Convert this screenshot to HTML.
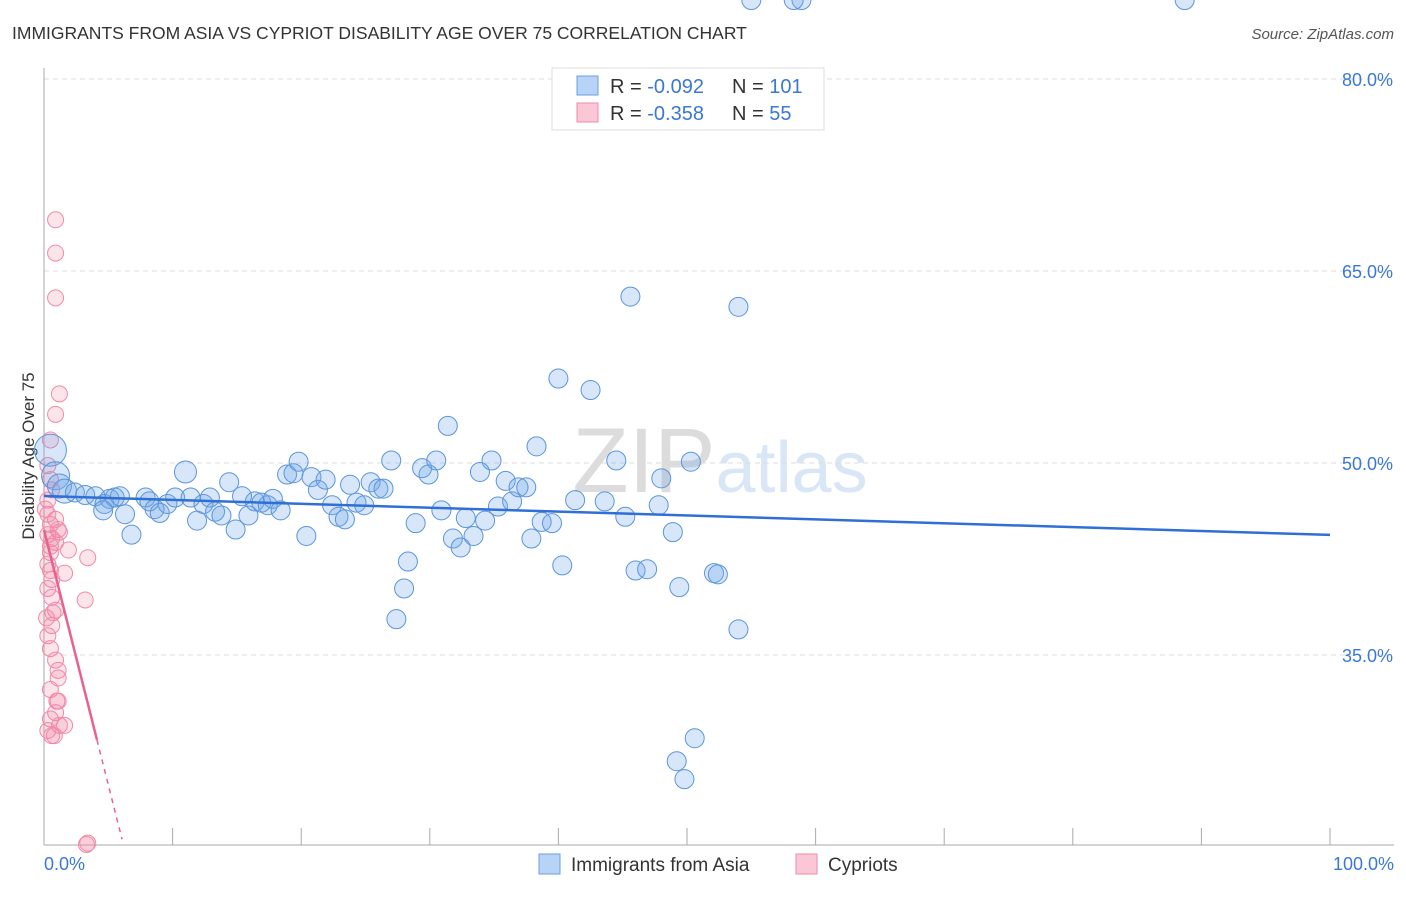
<!DOCTYPE html>
<html><head><meta charset="utf-8"><style>
body{margin:0;background:#fff;font-family:"Liberation Sans",sans-serif;}
svg text{font-family:"Liberation Sans",sans-serif;}
</style></head><body>
<svg id="chart" width="1406" height="892" xmlns="http://www.w3.org/2000/svg">
<text x="12" y="39" font-size="17.5" fill="#333">IMMIGRANTS FROM ASIA VS CYPRIOT DISABILITY AGE OVER 75 CORRELATION CHART</text>
<text x="1394" y="39" font-size="15" fill="#555" text-anchor="end" font-style="italic">Source: ZipAtlas.com</text>
<text x="720" y="492" font-size="92" fill="#e6e6e6" text-anchor="middle" font-family="Liberation Serif"><tspan fill="#dcdcdc">ZIP</tspan><tspan fill="#d8e6f5" font-family="Liberation Sans" font-size="72">atlas</tspan></text>
<text transform="translate(34,456) rotate(-90)" font-size="17" fill="#333" text-anchor="middle">Disability Age Over 75</text>
<g id="grid"></g>
<g id="marks"></g>
<g>
<rect x="552" y="68" width="272" height="62" fill="#fff" stroke="#ddd"/>
<rect x="577" y="76" width="21" height="19" fill="#b8d3f5" stroke="#6a9fe0"/>
<rect x="577" y="103" width="21" height="19" fill="#fbc6d6" stroke="#f08aa8"/>
<text x="610" y="93" font-size="20" fill="#333">R = <tspan fill="#3a78d4">-0.092</tspan></text>
<text x="732" y="93" font-size="20" fill="#333">N = <tspan fill="#3a78d4">101</tspan></text>
<text x="610" y="120" font-size="20" fill="#333">R = <tspan fill="#3a78d4"> -0.358</tspan></text>
<text x="732" y="120" font-size="20" fill="#333">N = <tspan fill="#3a78d4"> 55</tspan></text>
</g>
<g>
<rect x="539" y="854" width="21" height="20" fill="#b8d3f5" stroke="#6a9fe0"/>
<text x="571" y="871" font-size="19" fill="#333">Immigrants from Asia</text>
<rect x="796" y="854" width="21" height="20" fill="#fbc6d6" stroke="#f08aa8"/>
<text x="828" y="871" font-size="19" fill="#333">Cypriots</text>
</g>
</svg>
<script>
const yTicks=[80,65,50,35];
const xTickCount=[0,10,20,30,40,50,60,70,80,90,100];
const xLabels=["0.0%","100.0%"];
const asiaX=[0.5,0.9,1.2,1.6,2.4,3.2,4.0,4.7,5.1,5.5,5.9,4.6,6.3,6.8,7.9,8.2,8.6,9.0,9.6,10.2,11.0,11.4,11.9,12.4,12.9,13.3,13.8,14.4,14.9,15.4,15.9,16.4,16.9,17.4,17.8,18.4,18.9,19.4,19.8,20.4,20.8,21.3,21.9,22.4,22.9,23.4,23.8,24.3,24.9,25.4,26.0,26.4,27.0,27.4,28.0,28.3,28.9,29.4,29.9,30.5,30.9,31.4,31.8,32.4,32.8,33.4,33.9,34.3,34.8,35.3,35.9,36.4,36.9,37.5,37.9,38.3,38.7,39.5,40.0,40.3,41.3,42.5,43.6,45.2,44.5,46.0,46.9,45.6,49.2,49.4,48.9,50.3,49.8,47.8,48.0,50.6,52.1,54.0,52.4,54.0,55.0,58.9,58.3,88.7];
const asiaY=[51.0,49.0,48.2,47.8,47.7,47.5,47.4,46.8,47.2,47.3,47.4,46.3,46.0,44.4,47.3,47.0,46.4,46.1,46.8,47.3,49.3,47.3,45.5,46.8,47.3,46.2,45.9,48.5,44.8,47.4,45.9,47.0,46.9,46.7,47.2,46.3,49.1,49.2,50.1,44.3,48.9,47.9,48.7,46.7,45.8,45.6,48.3,46.9,46.7,48.5,48.0,48.0,50.2,37.8,40.2,42.3,45.3,49.6,49.1,50.2,46.3,52.9,44.1,43.4,45.7,44.3,49.3,45.5,50.2,46.6,48.6,47.0,48.1,48.1,44.1,51.3,45.4,45.3,56.6,42.0,47.1,55.7,47.0,45.8,50.2,41.6,41.7,63.0,26.7,40.3,44.6,50.1,25.3,46.7,48.8,28.5,41.4,37.0,41.3,62.2];
const cypX=[0.9,0.9,0.9,1.2,0.9,0.5,0.3,0.5,0.6,0.3,0.9,0.5,1.1,1.2,0.3,0.6,0.9,0.5,1.9,3.4,0.3,1.6,0.6,0.3,3.2,0.9,0.6,0.3,0.5,1.1,1.1,0.5,1.1,0.9,0.5,1.2,1.6,0.3,0.6,3.4,3.3,0.3,0.5,0.6,0.9,0.1,0.5,0.2,0.7,1.0,0.8];
const cypY=[69.0,66.4,62.9,55.4,53.8,51.8,49.8,48.7,47.9,47.1,45.6,45.2,44.8,44.6,44.4,44.1,43.8,43.5,43.2,42.6,42.1,41.4,40.9,40.2,39.3,38.5,37.3,36.5,35.5,33.8,33.2,32.3,31.4,30.5,30.0,29.5,29.5,29.1,28.7,20.3,20.2,46.0,43.0,39.5,34.6,46.4,41.6,37.9,38.3,31.4,28.7];
const asiaTrend=[47.42,44.38];
const cypTrendX=[0,4.12,6.07];
const cypTrendY=[44.77,28.36,20.6];
const X0=44,X1=1330,YREF=463;
const xs=v=>X0+(X1-X0)*v/100;
const ys=v=>YREF-(v-50)*12.8;
const NS="http://www.w3.org/2000/svg";
const grid=document.getElementById('grid'),marks=document.getElementById('marks');
function mk(tag,attrs,parent){const e=document.createElementNS(NS,tag);for(const k in attrs)e.setAttribute(k,attrs[k]);parent.appendChild(e);return e;}
yTicks.forEach(t=>{
 const l=mk('line',{x1:44,x2:1394,y1:ys(t),y2:ys(t),stroke:'#ddd','stroke-dasharray':'5,4'},grid);
 
 
 const tx=mk('text',{x:1393,y:ys(t)+7,'font-size':18,fill:'#3a78d4','text-anchor':'end'},grid);
 tx.textContent=t.toFixed(1)+'%';
 
 
});
const ax=mk('line',{x1:44,x2:44,y1:68,y2:845,stroke:'#aaa'},grid);


const bx=mk('line',{x1:44,x2:1394,y1:845,y2:845,stroke:'#aaa'},grid);


xTickCount.forEach(t=>{
 const l=mk('line',{x1:xs(t),x2:xs(t),y1:828,y2:845,stroke:'#aaa'},grid);
 
 
});
const xl0=mk('text',{x:44,y:870,'font-size':18,fill:'#3a78d4'},grid);xl0.textContent=xLabels[0];


const xl1=mk('text',{x:1394,y:870,'font-size':18,fill:'#3a78d4','text-anchor':'end'},grid);xl1.textContent=xLabels[1];


cypX.forEach((x,i)=>{
 const c=mk('circle',{cx:xs(x),cy:ys(cypY[i]),r:8,fill:'rgba(240,130,165,0.22)',stroke:'#f08aa8','stroke-width':1},marks);
 
 
});
asiaX.forEach((x,i)=>{
 const r=i==0?16:(i==1?14:(i<4?12:(i==20?11:9.5)));
 const c=mk('circle',{cx:xs(x),cy:ys(asiaY[i]),r:r,fill:'rgba(110,165,230,0.28)',stroke:'#5b95dd','stroke-width':1},marks);
 
 
});
const bt=mk('line',{x1:xs(0),y1:ys(asiaTrend[0]),x2:xs(100),y2:ys(asiaTrend[1]),stroke:'#2f6fd6','stroke-width':2.5},marks);


const pt=mk('line',{x1:xs(cypTrendX[0]),y1:ys(cypTrendY[0]),x2:xs(cypTrendX[1]),y2:ys(cypTrendY[1]),stroke:'#e8628c','stroke-width':2.5},marks);


const pd=mk('line',{x1:xs(cypTrendX[1]),y1:ys(cypTrendY[1]),x2:xs(cypTrendX[2]),y2:ys(cypTrendY[2]),stroke:'#e8628c','stroke-width':1.5,'stroke-dasharray':'5,5'},marks);


</script>
</body></html>
